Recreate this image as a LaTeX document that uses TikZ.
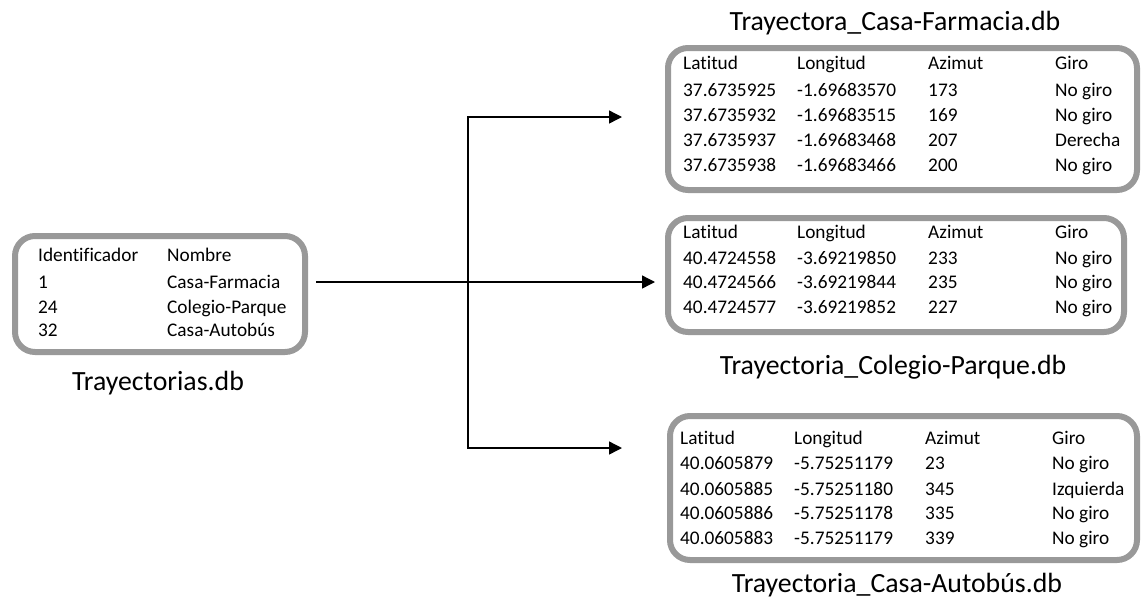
\documentclass[tikz,border=0pt]{standalone}
\usepackage{fontspec}
\setmainfont[Ligatures=NoCommon]{Carlito}
\usetikzlibrary{arrows.meta}

% one row of a table, columns at fixed widths
\newcommand{\fila}[4]{\makebox[114pt][l]{#1}\makebox[131pt][l]{#2}\makebox[127pt][l]{#3}#4}
\newcommand{\filaid}[2]{\makebox[129pt][l]{#1}#2}

\begin{document}
\begin{tikzpicture}[x=1pt,y=-1pt,
  caja/.style={draw=black!40,line width=6pt,rounded corners=20pt},
  fila/.style={anchor=base west,inner sep=0pt,font=\fontsize{19.3}{22}\selectfont},
  titulo/.style={inner sep=0pt,font=\fontsize{27.8}{32}\selectfont},
  flecha/.style={line width=1.4pt,-{Triangle[length=13pt,width=13pt]}}]
 \useasboundingbox (0,0) rectangle (1144,598);

 % left table
 \node[caja,minimum width=290pt,minimum height=116pt] (trayectorias) at (160,294) {};
 \node[fila] (t0) at (38,261) {\filaid{Identificador}{Nombre}};
 \node[fila] (t1) at (38,288) {\filaid{1}{Casa-Farmacia}};
 \node[fila] (t2) at (38,313) {\filaid{24}{Colegio-Parque}};
 \node[fila] (t3) at (38,336) {\filaid{32}{Casa-Autobús}};
 \node[titulo] (tt) at (158,383) {Trayectorias.db};

 % Casa-Farmacia
 \node[caja,minimum width=469pt,minimum height=142pt] (farmacia) at (902.5,119) {};
 \node[fila] (a0) at (683,69) {\fila{Latitud}{Longitud}{Azimut}{Giro}};
 \node[fila] (a1) at (683,96) {\fila{37.6735925}{-1.69683570}{173}{No giro}};
 \node[fila] (a2) at (683,121) {\fila{37.6735932}{-1.69683515}{169}{No giro}};
 \node[fila] (a3) at (683,146) {\fila{37.6735937}{-1.69683468}{207}{Derecha}};
 \node[fila] (a4) at (683,171) {\fila{37.6735938}{-1.69683466}{200}{No giro}};
 \node[titulo] (ta) at (895,23) {Trayectora\_Casa-Farmacia.db};

 % Colegio-Parque
 \node[caja,minimum width=456pt,minimum height=114pt] (parque) at (896,275) {};
 \node[fila] (b0) at (683,238) {\fila{Latitud}{Longitud}{Azimut}{Giro}};
 \node[fila] (b1) at (683,264) {\fila{40.4724558}{-3.69219850}{233}{No giro}};
 \node[fila] (b2) at (683,288) {\fila{40.4724566}{-3.69219844}{235}{No giro}};
 \node[fila] (b3) at (683,313) {\fila{40.4724577}{-3.69219852}{227}{No giro}};
 \node[titulo] (tb) at (893,367) {Trayectoria\_Colegio-Parque.db};

 % Casa-Autobus
 \node[caja,minimum width=467pt,minimum height=144pt] (autobus) at (903.5,488) {};
 \node[fila] (c0) at (680,444) {\fila{Latitud}{Longitud}{Azimut}{Giro}};
 \node[fila] (c1) at (680,469) {\fila{40.0605879}{-5.75251179}{23}{No giro}};
 \node[fila] (c2) at (680,495) {\fila{40.0605885}{-5.75251180}{345}{Izquierda}};
 \node[fila] (c3) at (680,519) {\fila{40.0605886}{-5.75251178}{335}{No giro}};
 \node[fila] (c4) at (680,544) {\fila{40.0605883}{-5.75251179}{339}{No giro}};
 \node[titulo] (tc) at (897,585) {Trayectoria\_Casa-Autobús.db};

 % arrows
 \coordinate (rama) at (468,282);
 \coordinate (p1) at (622,117);
 \coordinate (p2) at (655,282);
 \coordinate (p3) at (622,448);
 \draw[flecha,shorten <=8pt] (trayectorias.east |- p2) -- (p2);
 \draw[flecha] (rama) |- (p1);
 \draw[flecha] (rama) |- (p3);
\end{tikzpicture}
\end{document}
